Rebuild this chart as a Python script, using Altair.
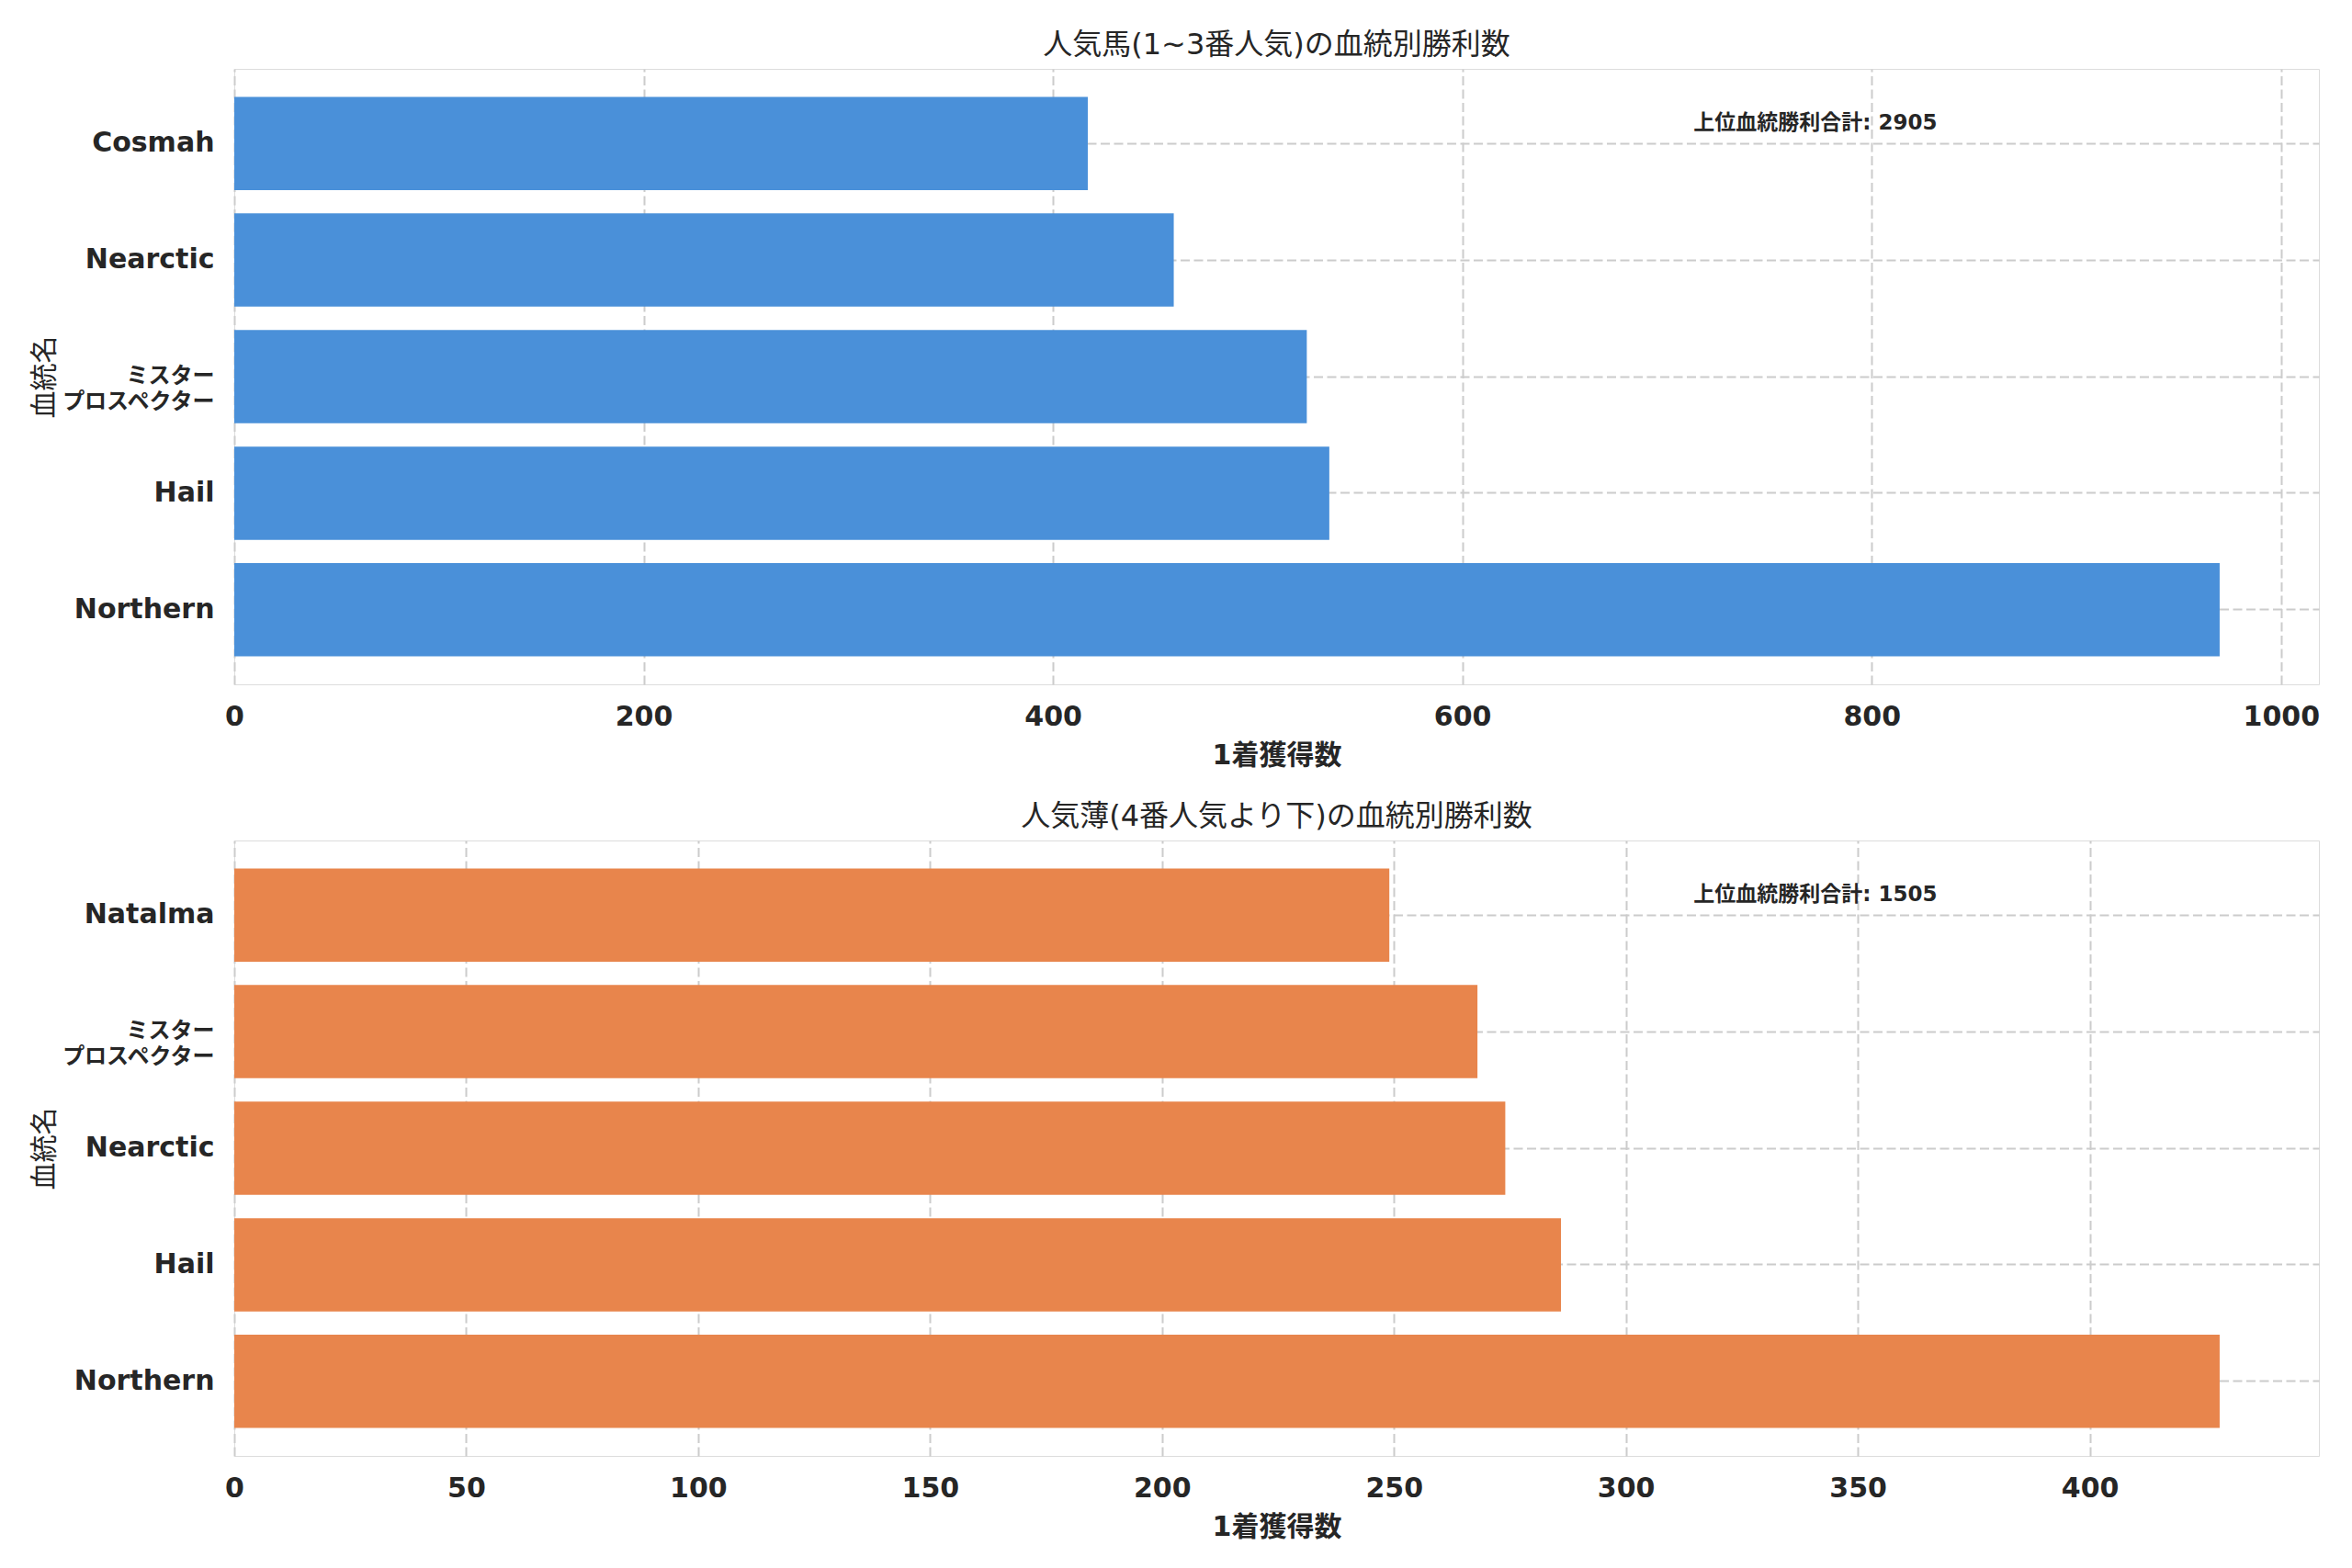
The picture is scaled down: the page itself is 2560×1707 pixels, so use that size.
import altair as alt
import pandas as pd

# ---- data ----
top_names = ["Cosmah", "Nearctic", "ミスタープロスペクター", "Hail", "Northern"]
top_wins = [417, 459, 524, 535, 970]
bottom_names = ["Natalma", "ミスタープロスペクター", "Nearctic", "Hail", "Northern"]
bottom_wins = [249, 268, 274, 286, 428]
top_ticks = [0, 200, 400, 600, 800, 1000]
bottom_ticks = [0, 50, 100, 150, 200, 250, 300, 350, 400]

top_title = "人気馬(1~3番人気)の血統別勝利数"
bottom_title = "人気薄(4番人気より下)の血統別勝利数"
x_label = "1着獲得数"
y_label = "血統名"
total_label = "上位血統勝利合計"
top_color = "#4A90D9"
bottom_color = "#E8854C"

FONT = "DejaVu Sans, Noto Sans CJK JP, sans-serif"
TXT = "#262626"
GRID = "#cccccc"
LONG = "ミスタープロスペクター"


def panel(names, wins, ticks, title, color):
    df = pd.DataFrame({"name": names, "wins": wins})
    xmax = max(wins) * 1.05
    x = alt.X(
        "wins:Q",
        scale=alt.Scale(domain=[0, xmax], nice=False, zero=True),
        axis=alt.Axis(
            values=ticks, title=x_label, grid=True, gridDash=[10, 4.5],
            gridColor=GRID, gridWidth=2, ticks=False, tickSize=0, domain=False,
            labelPadding=20, titlePadding=12, labelFontSize=30,
            labelFontWeight="bold", titleFontSize=30, titleFontWeight="bold",
            labelColor=TXT, titleColor=TXT, labelFlush=False,
            labelFont=FONT, titleFont=FONT, format="d",
        ),
    )
    y = alt.Y(
        "name:N",
        sort=names,
        scale=alt.Scale(paddingInner=0.2, paddingOuter=0.24),
        axis=alt.Axis(
            title=y_label, grid=True, bandPosition=0.5, gridDash=[10, 4.5],
            gridColor=GRID, gridWidth=2, ticks=False, tickSize=0, domain=False,
            labelPadding=22, labelFontSize={
                "condition": {"test": f"datum.value == '{LONG}'", "value": 24},
                "value": 30,
            },
            labelExpr=f"datum.value == '{LONG}' ? ['ミスター', 'プロスペクター'] : datum.label",
            labelLineHeight=28,
            labelFontWeight="bold", labelColor=TXT, labelFont=FONT,
            titleFont=FONT, titleFontSize=30, titleFontWeight="normal",
            titleColor=TXT, titleX=-207, titleBaseline="middle",
        ),
    )
    bars = alt.Chart(df).mark_bar(color=color).encode(x=x, y=y)
    total = sum(wins)
    ann_df = pd.DataFrame({"wins": [0.7 * xmax], "t": [f"{total_label}: {total}"]})
    ann = alt.Chart(ann_df).mark_text(
        align="left", baseline="middle", fontSize=23, fontWeight="bold",
        font=FONT, color=TXT,
    ).encode(x=x, y=alt.value(59), text="t:N")
    return alt.layer(bars, ann).properties(
        width=2269, height=670,
        title=alt.TitleParams(
            text=title, fontSize=32, fontWeight="normal", font=FONT,
            color=TXT, anchor="middle", baseline="middle", offset=-6,
        ),
    )


top = panel(top_names, top_wins, top_ticks, top_title, top_color)
bottom = panel(bottom_names, bottom_wins, bottom_ticks, bottom_title, bottom_color)

chart = alt.vconcat(top, bottom, spacing=34).properties(
    padding={"left": 24, "top": 24, "right": 10, "bottom": 10}
).configure_view(stroke=GRID, strokeWidth=2.5).configure(background="white")

chart.save("out.html", embed_options={"renderer": "svg", "actions": False})
